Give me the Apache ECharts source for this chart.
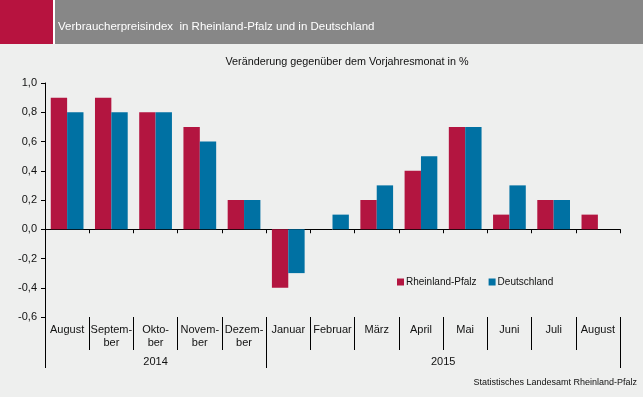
<!DOCTYPE html>
<html>
<head>
<meta charset="utf-8">
<script src="https://cdn.jsdelivr.net/npm/echarts@6/dist/echarts.min.js"></script>
<style>
html,body{margin:0;padding:0;background:#EEEFEE;}
#chart{width:643px;height:397px;}
</style>
</head>
<body>
<div id="chart"></div>
<script>
var categories = ['August', 'Septem-\nber', 'Okto-\nber', 'Novem-\nber', 'Dezem-\nber', 'Januar', 'Februar', 'März', 'April', 'Mai', 'Juni', 'Juli', 'August'];
var years = ['2014', '2015'];
var yearLabelIndex = [2, 9];
var yearStartIndex = [0, 5];
var rheinlandPfalz = [0.9, 0.9, 0.8, 0.7, 0.2, -0.4, null, 0.2, 0.4, 0.7, 0.1, 0.2, 0.1];
var deutschland = [0.8, 0.8, 0.8, 0.6, 0.2, -0.3, 0.1, 0.3, 0.5, 0.7, 0.3, 0.2, null];
var yTicks = [-0.6, -0.4, -0.2, 0.0, 0.2, 0.4, 0.6, 0.8, 1.0];

var FONT = '"Liberation Sans", Arial, sans-serif';
var RED = '#B31540';
var BLUE = '#0071A3';

var chart = echarts.init(document.getElementById('chart'), null, {renderer: 'canvas'});

var option = {
  backgroundColor: '#EEEFEE',
  animation: false,
  textStyle: {fontFamily: FONT},
  title: [
    {
      text: 'Verbraucherpreisindex  in Rheinland-Pfalz und in Deutschland',
      left: 53, top: 16,
      textStyle: {color: '#ffffff', fontSize: 11.5, fontWeight: 'normal', fontFamily: FONT}
    },
    {
      text: 'Veränderung gegenüber dem Vorjahresmonat in %',
      left: 342, top: 52, textAlign: 'center',
      textStyle: {color: '#111111', fontSize: 10.8, fontWeight: 'normal', fontFamily: FONT}
    }
  ],
  graphic: [
    {type: 'rect', shape: {x: 0, y: 0, width: 53, height: 44}, style: {fill: '#B7133F'}, z: -1},
    {type: 'rect', shape: {x: 53, y: 0, width: 2, height: 44}, style: {fill: '#ffffff'}, z: -1},
    {type: 'rect', shape: {x: 55, y: 0, width: 588, height: 44}, style: {fill: '#878787'}, z: -1},
    {type: 'text', right: 6, top: 378,
      style: {text: 'Statistisches Landesamt Rheinland-Pfalz', fill: '#111111', font: '9px ' + FONT}}
  ],
  legend: {
    left: 392, top: 272,
    itemWidth: 7, itemHeight: 7, itemGap: 12,
    icon: 'rect',
    textStyle: {fontSize: 10, color: '#111111', fontFamily: FONT, padding: [0, 0, 0, -3]},
    data: ['Rheinland-Pfalz', 'Deutschland']
  },
  grid: {left: 45, right: 23, top: 83, bottom: 80, containLabel: false},
  xAxis: [
    {
      type: 'category', data: categories,
      axisLine: {onZero: true, lineStyle: {color: '#000', width: 1}},
      axisTick: {show: true, length: 4, inside: false, interval: 0, lineStyle: {color: '#000'}},
      axisLabel: {show: false}
    },
    {
      type: 'category', data: categories, position: 'bottom',
      axisLine: {show: false, onZero: false},
      axisTick: {show: true, length: 33, inside: false, interval: 0, lineStyle: {color: '#000'}},
      axisLabel: {show: true, interval: 0, margin: 6, fontSize: 11, lineHeight: 13, color: '#111', fontFamily: FONT, align: 'center'}
    },
    {
      type: 'category', data: categories, position: 'bottom',
      axisLine: {show: false, onZero: false},
      axisTick: {show: true, length: 51, inside: false,
        interval: function (index) { return yearStartIndex.indexOf(index) >= 0; },
        lineStyle: {color: '#000'}},
      axisLabel: {
        show: true, margin: 39, fontSize: 11, color: '#111', fontFamily: FONT,
        interval: function (index) { return yearLabelIndex.indexOf(index) >= 0; },
        formatter: function (v, index) {
          var k = yearLabelIndex.indexOf(index);
          return k === 1 ? '{s|' + years[k] + '}' : years[k];
        },
        rich: {s: {fontSize: 11, color: '#111', fontFamily: FONT, padding: [0, 44, 0, 0]}}
      }
    }
  ],
  yAxis: {
    type: 'value', min: -0.6, max: 1.0, interval: 0.2,
    splitLine: {show: false},
    axisLine: {show: true, lineStyle: {color: '#000'}},
    axisTick: {show: true, length: 4, lineStyle: {color: '#000'}},
    axisLabel: {
      margin: 8, fontSize: 11, color: '#111', fontFamily: FONT,
      formatter: function (v) { return v.toFixed(1).replace('.', ','); }
    }
  },
  series: [
    {name: 'Rheinland-Pfalz', type: 'bar', data: rheinlandPfalz, itemStyle: {color: RED}, barGap: 0, barCategoryGap: '26%'},
    {name: 'Deutschland', type: 'bar', data: deutschland, itemStyle: {color: BLUE}, barGap: 0, barCategoryGap: '26%'}
  ]
};
chart.setOption(option);
</script>
</body>
</html>
